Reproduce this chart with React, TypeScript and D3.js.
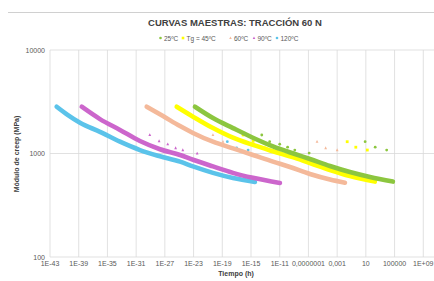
import React, { useEffect, useRef } from 'react'
import * as d3 from 'd3'

type Pt = [number, number]

// master curves: [time (h), creep modulus (MPa)]
const curve120: Pt[] = [
  [10 ** -42.07, 2830], [10 ** -40.5, 2350], [10 ** -38.82, 1980], [10 ** -36.04, 1620], [10 ** -33.25, 1300],
  [10 ** -30.47, 1080], [10 ** -27.68, 940], [10 ** -24.89, 834], [10 ** -23.08, 750],
  [10 ** -20.3, 650], [10 ** -17.51, 580], [10 ** -14.45, 531],
]
const curve90: Pt[] = [
  [10 ** -38.58, 2830], [10 ** -36.04, 2150], [10 ** -33.25, 1690], [10 ** -30.47, 1320],
  [10 ** -27.68, 1100], [10 ** -24.89, 968], [10 ** -23.08, 870], [10 ** -20.3, 750],
  [10 ** -17.51, 650], [10 ** -14.73, 582], [10 ** -10.97, 519],
]
const curve60: Pt[] = [
  [10 ** -29.53, 2830], [10 ** -27.26, 2300], [10 ** -24.89, 1840],
  [10 ** -23.08, 1580], [10 ** -20.3, 1300], [10 ** -17.51, 1120], [10 ** -14.73, 968],
  [10 ** -11.94, 834], [10 ** -9.57, 741], [10 ** -6.79, 634], [10 ** -4, 561], [10 ** -1.91, 523],
]
const curve45: Pt[] = [
  [10 ** -25.35, 2830], [10 ** -23.08, 2270], [10 ** -20.3, 1760], [10 ** -17.51, 1420],
  [10 ** -14.73, 1210], [10 ** -11.94, 1050], [10 ** -8.88, 906], [10 ** -6.79, 809],
  [10 ** -4, 693], [10 ** -1.22, 606], [10 ** 2.26, 535],
]
const curve25: Pt[] = [
  [10 ** -22.81, 2830], [10 ** -20.3, 2200], [10 ** -17.51, 1760], [10 ** -14.73, 1420],
  [10 ** -11.94, 1170], [10 ** -8.88, 988], [10 ** -6.79, 885], [10 ** -4, 757],
  [10 ** -1.22, 662], [10 ** 1.57, 593], [10 ** 4.77, 535],
]

// scattered points off the curves
const stray120: Pt[] = [[10 ** -18.3, 1300], [1e-17, 1130], [10 ** -15.4, 1080]]
const stray90: Pt[] = [
  [10 ** -29.1, 1510], [10 ** -27.8, 1320], [10 ** -26.6, 1230], [10 ** -25.5, 1130],
  [10 ** -24.5, 1080], [10 ** -22.5, 1000],
]
const stray60: Pt[] = [
  [10 ** -20.3, 1510], [10 ** -18.9, 1300], [10 ** -14.7, 1300], [10 ** -13.5, 1150],
  [10 ** -5.8, 1300], [10 ** -4.6, 1130], [1e-3, 1080],
]
const stray45: Pt[] = [
  [10 ** -16.1, 1510], [10 ** -14.7, 1320], [10 ** -13.1, 1130], [10 ** -11.4, 1080],
  [10 ** -1.6, 1300], [10 ** -0.4, 1150], [10 ** 1.2, 1080],
]
const stray25: Pt[] = [
  [10 ** -13.5, 1510], [10 ** -12.4, 1300], [1e-11, 1230], [10 ** -9.9, 1150], [10 ** -8.9, 1080],
  [10 ** -6.9, 1010], [10 ** 0.9, 1300], [10 ** 2.3, 1150], [10 ** 3.9, 1080],
]

const xTickValues = [1e-43, 1e-39, 1e-35, 1e-31, 1e-27, 1e-23, 1e-19, 1e-15, 1e-11, 1e-7, 1e-3, 10, 1e5, 1e9]
const xTickLabels = ['1E-43', '1E-39', '1E-35', '1E-31', '1E-27', '1E-23', '1E-19', '1E-15', '1E-11',
  '0,0000001', '0,001', '10', '100000', '1E+09']
const yTickValues = [100, 1000, 10000]

const seriesNames = ['25ºC', 'Tg = 45ºC', '60ºC', '90ºC', '120ºC']
const seriesColors = ['#8cc63f', '#ffff00', '#f4b99a', '#cc66cc', '#5bc3ea']
const seriesShapes = ['circle', 'square', 'triangle', 'triangle', 'circle']

const App: React.FC = () => {
  const ref = useRef<SVGSVGElement>(null)

  useEffect(() => {
    const svg = d3.select(ref.current)
    svg.selectAll('*').remove()
    const font = 'Liberation Sans, Arial, sans-serif'

    const x = d3.scaleLog().domain([1e-43, 1e13]).range([50, 452])
    const y = d3.scaleLog().domain([100, 10000]).range([257, 50])

    svg.append('rect').attr('width', 434).attr('height', 281).attr('fill', '#fff')
    svg.append('line').attr('x1', 8).attr('x2', 434).attr('y1', 12.5).attr('y2', 12.5)
      .attr('stroke', '#d0d0d0')

    // grid
    svg.append('g').selectAll('line').data(xTickValues).enter().append('line')
      .attr('x1', (d) => x(d)).attr('x2', (d) => x(d)).attr('y1', 50).attr('y2', 257)
      .attr('stroke', '#d9d9d9').attr('stroke-width', 0.8)
    svg.append('g').selectAll('line').data(yTickValues).enter().append('line')
      .attr('x1', 50).attr('x2', 452).attr('y1', (d) => y(d)).attr('y2', (d) => y(d))
      .attr('stroke', '#d9d9d9').attr('stroke-width', 0.8)

    svg.append('g').selectAll('text').data(xTickValues).enter().append('text')
      .attr('x', (d) => x(d)).attr('y', 266).attr('text-anchor', 'middle')
      .attr('font-family', font).attr('font-size', 7).attr('fill', '#595959')
      .text((d, i) => xTickLabels[i])
    svg.append('g').selectAll('text').data(yTickValues).enter().append('text')
      .attr('x', 45).attr('y', (d) => y(d) + 2.5).attr('text-anchor', 'end')
      .attr('font-family', font).attr('font-size', 7).attr('fill', '#595959')
      .text((d) => String(d))

    svg.append('text').attr('x', 236).attr('y', 276).attr('text-anchor', 'middle')
      .attr('font-family', font).attr('font-size', 7).attr('font-weight', 'bold').attr('fill', '#404040')
      .text('Tiempo (h)')
    svg.append('text').attr('transform', 'translate(19,154) rotate(-90)').attr('text-anchor', 'middle')
      .attr('font-family', font).attr('font-size', 7).attr('font-weight', 'bold').attr('fill', '#404040')
      .text('Módulo de creep (MPa)')
    svg.append('text').attr('x', 235).attr('y', 26).attr('text-anchor', 'middle')
      .attr('font-family', font).attr('font-size', 9.5).attr('font-weight', 'bold').attr('fill', '#404040')
      .text('CURVAS MAESTRAS: TRACCIÓN 60 N')

    const curves = [curve25, curve45, curve60, curve90, curve120]
    const strays = [stray25, stray45, stray60, stray90, stray120]
    const line = d3.line<Pt>().x((d) => x(d[0])).y((d) => y(d[1])).curve(d3.curveMonotoneX)

    const marker = (g: d3.Selection<SVGGElement, unknown, null, undefined>, shape: string,
      cx: number, cy: number, s: number, color: string) => {
      if (shape === 'square') {
        g.append('rect').attr('x', cx - s).attr('y', cy - s).attr('width', 2 * s).attr('height', 2 * s).attr('fill', color)
      } else if (shape === 'triangle') {
        g.append('path').attr('d', `M${cx},${cy - s * 1.2}L${cx + s},${cy + s * 0.8}L${cx - s},${cy + s * 0.8}Z`).attr('fill', color)
      } else {
        g.append('circle').attr('cx', cx).attr('cy', cy).attr('r', s).attr('fill', color)
      }
    }

    // draw back to front: 120 first
    for (let i = curves.length - 1; i >= 0; i--) {
      const g = svg.append('g')
      g.append('path').datum(curves[i]).attr('d', line).attr('fill', 'none')
        .attr('stroke', seriesColors[i]).attr('stroke-width', 4.6).attr('stroke-linecap', 'round')
      strays[i].forEach((d) => marker(g, seriesShapes[i], x(d[0]), y(d[1]), 1.4, seriesColors[i]))
    }

    // legend
    const legendX = [160.5, 183, 230.5, 254, 277]
    const lg = svg.append('g')
    seriesNames.forEach((name, i) => {
      marker(lg, seriesShapes[i], legendX[i], 38, 1.3, seriesColors[i])
      lg.append('text').attr('x', legendX[i] + 3.5).attr('y', 40.5)
        .attr('font-family', font).attr('font-size', 6.5).attr('fill', '#595959').text(name)
    })
  }, [])

  return (
    <div style={{ position: 'fixed', top: 0, left: 0 }}>
      <svg ref={ref} width={434} height={281} style={{ display: 'block' }} />
    </div>
  )
}

export default App
